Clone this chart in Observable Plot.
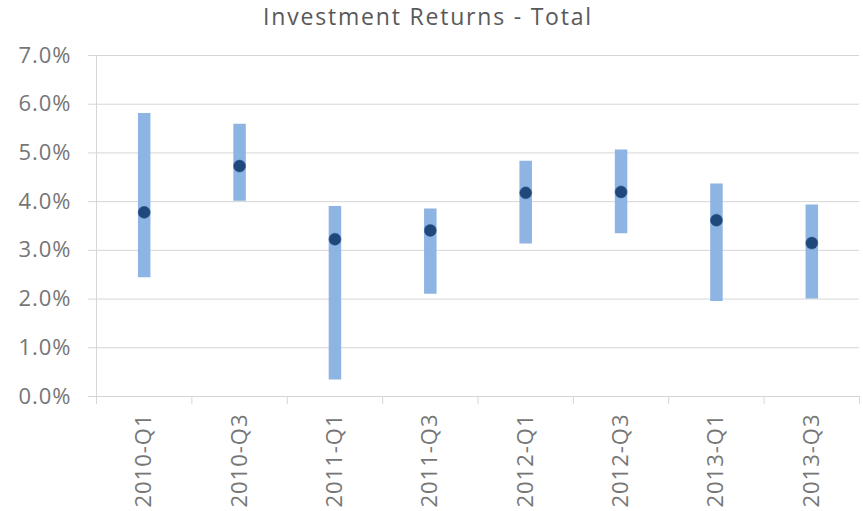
<!DOCTYPE html>
<html>
<head>
<meta charset="utf-8">
<script src="https://cdn.jsdelivr.net/npm/d3@7"></script>
<script src="https://cdn.jsdelivr.net/npm/@observablehq/plot@0.6"></script>
<style>
  html, body { margin: 0; padding: 0; background: #fff; }
  #title { width: 863px; height: 36px; line-height: normal; text-align: center; font-family: "Open Sans", sans-serif; font-size: 23px; letter-spacing: 1.8px; color: #595959; padding-right: 7px; box-sizing: border-box; white-space: nowrap; overflow: visible; }
  #chart svg text { letter-spacing: 1px; }
</style>
</head>
<body>
<div id="title">Investment Returns - Total</div>
<div id="chart"></div>
<script>
const categories = ["2010-Q1","2010-Q3","2011-Q1","2011-Q3","2012-Q1","2012-Q3","2013-Q1","2013-Q3"];
const lowPct  = [2.44, 4.01, 0.34, 2.10, 3.13, 3.34, 1.95, 2.00];
const highPct = [5.81, 5.59, 3.90, 3.85, 4.83, 5.06, 4.36, 3.93];
const midPct  = [3.78, 4.73, 3.23, 3.41, 4.18, 4.20, 3.62, 3.15];
const yTicks = [0, 0.01, 0.02, 0.03, 0.04, 0.05, 0.06, 0.07];

const data = categories.map((c, i) => ({
  cat: c, pos: i + 0.5,
  low: lowPct[i] / 100, high: highPct[i] / 100, mid: midPct[i] / 100
}));
const boundaries = d3.range(categories.length + 1);
const centers = categories.map((c, i) => i + 0.5);

const gridColor = "#d6d6d6";
const textColor = "#767676";

const chart = Plot.plot({
  width: 863,
  height: 475,
  marginLeft: 96,
  marginRight: 4,
  marginTop: 19,
  marginBottom: 115,
  style: { fontFamily: "Open Sans, sans-serif", fontSize: "22px", background: "#fff" },
  x: { type: "linear", domain: [0, categories.length] },
  y: { domain: [0, 0.07] },
  marks: [
    Plot.ruleY(yTicks, { stroke: gridColor, strokeWidth: 1 }),
    Plot.ruleX([0], { stroke: gridColor, strokeWidth: 1 }),
    Plot.axisY({ ticks: yTicks, tickFormat: ".1%", tickSize: 8, tickPadding: 17, stroke: gridColor, fill: textColor, fontSize: 22, label: null }),
    Plot.axisX({ ticks: boundaries, tickSize: 8, tickFormat: () => "", stroke: gridColor, label: null }),
    Plot.axisX({ ticks: centers, tickSize: 0, tickPadding: 17, tickRotate: -90, tickFormat: v => categories[Math.floor(v)], fill: textColor, fontSize: 22, label: null }),
    Plot.ruleX(data, { x: "pos", y1: "low", y2: "high", stroke: "#8db4e2", strokeWidth: 12.5 }),
    Plot.dot(data, { x: "pos", y: "mid", r: 6, fill: "#1f497d", stroke: "#2a5589", strokeWidth: 0.5 })
  ]
});
document.getElementById("chart").appendChild(chart);
</script>
</body>
</html>
